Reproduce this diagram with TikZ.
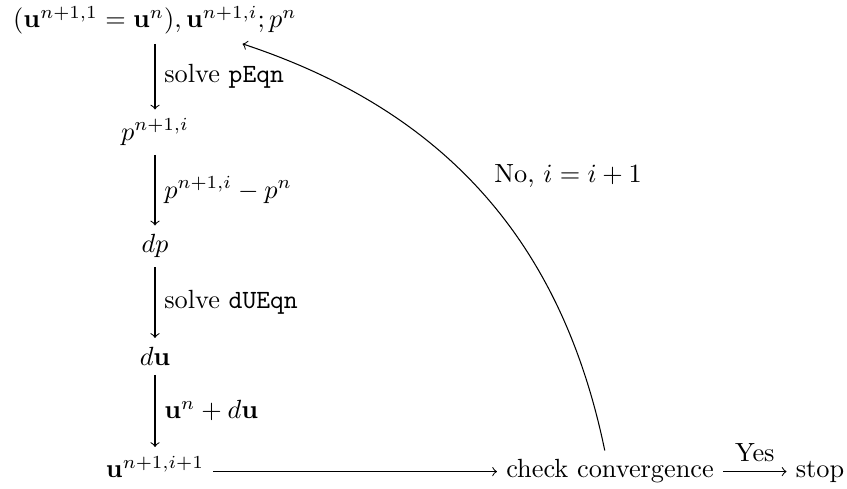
\documentclass[tikz,border=0pt]{standalone}
\begin{document}
\begin{tikzpicture}[>=to, x=1cm, y=1cm,
    cell/.style={anchor=base},
    lbl/.style={right}]
  \useasboundingbox (0,0) rectangle (11.316,6.52);
  % Steps of one outer iteration
  \node[cell] (init)  at (2.071,6.146) {$(\mathbf{u}^{n+1,1}=\mathbf{u}^n),\mathbf{u}^{n+1,i};p^n$};
  \node[cell] (pnew)  at (2.071,4.643) {$p^{n+1,i}$};
  \node[cell] (dp)    at (2.071,3.140) {$dp$};
  \node[cell] (du)    at (2.071,1.637) {$d\mathbf{u}$};
  \node[cell] (unew)  at (2.071,0.134) {$\mathbf{u}^{n+1,i+1}$};
  \node[cell] (check) at (8.150,0.134) {check convergence};
  \node[cell] (stop)  at (10.955,0.134) {stop};
  % Down the column
  \draw[->] (init) -- node[lbl] {solve \texttt{pEqn}} (pnew);
  \draw[->] (pnew) -- node[lbl] {$p^{n+1,i}-p^n$} (dp);
  \draw[->] (dp) -- node[lbl] {solve \texttt{dUEqn}} (du);
  \draw[->] (du) -- node[lbl] {$\mathbf{u}^n+d\mathbf{u}$} (unew);
  % Along the bottom
  \draw[->] (unew.east |- check) -- (check);
  \draw[->] (check.east) -- node[above] {Yes} (check.east -| stop.west);
  % Back to the top
  \draw[->] (check.104) to[bend right=30]
    node[pos=0.545, right=7pt] {No, $i=i+1$} (init.-15);
\end{tikzpicture}
\end{document}
